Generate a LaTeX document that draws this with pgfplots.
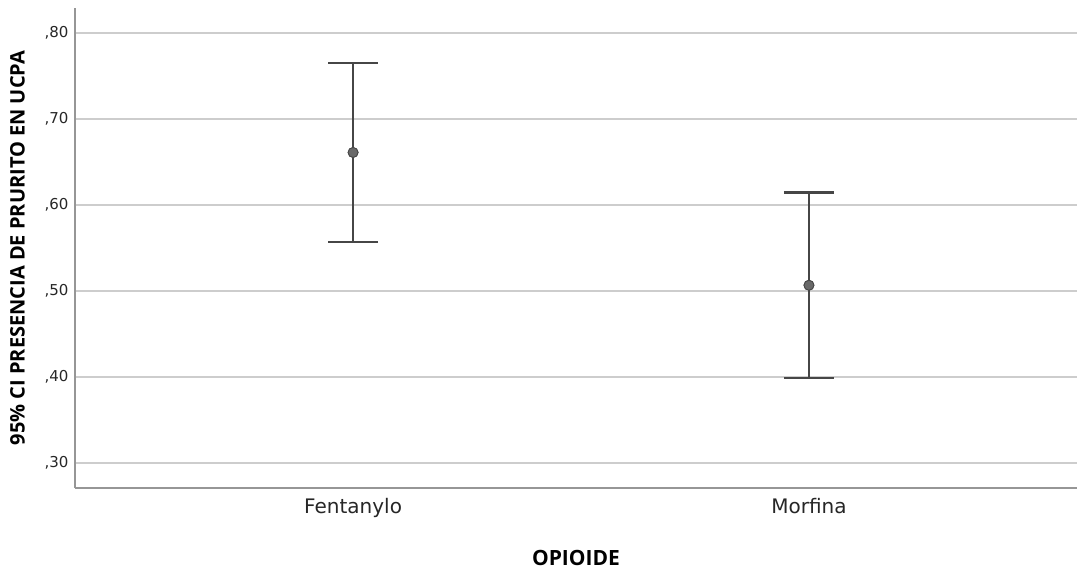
\documentclass[border=0pt]{standalone}
\usepackage{pgfplots}
\pgfplotsset{compat=1.18}
\usepackage{fontspec}
\setmainfont{DejaVu Sans}
\newfontfamily\labelfont{Open Sans}
\definecolor{gridc}{RGB}{205,205,205}
\definecolor{axisc}{RGB}{150,150,150}
\definecolor{barc}{RGB}{70,70,70}
\definecolor{markc}{RGB}{105,105,105}
\begin{document}
\begin{tikzpicture}
\begin{axis}[
  scale only axis,
  width=1002bp, height=480bp,
  xmin=-0.61, xmax=1.588,
  ymin=0.2711, ymax=0.8289,
  axis x line*=bottom, axis y line*=left,
  axis line style={axisc, line width=1.2bp},
  xtick={0,1}, xticklabels={Fentanylo,Morfina},
  ytick={0.3,0.4,0.5,0.6,0.7,0.8},
  yticklabels={{,30},{,40},{,50},{,60},{,70},{,80}},
  major tick length=0pt,
  ymajorgrids, grid style={gridc, line width=1.4bp},
  tick label style={black!85},
  yticklabel style={font=\fontsize{15bp}{17bp}\selectfont, xshift=-3bp},
  xticklabel style={font=\fontsize{20bp}{23bp}\selectfont, yshift=-7bp},
  xlabel={\labelfont\bfseries OPIOIDE},
  xlabel style={font=\fontsize{21bp}{24bp}\selectfont, yshift=-26bp},
  ylabel={\labelfont\bfseries 95\% CI PRESENCIA DE PRURITO EN UCPA},
  ylabel style={font=\fontsize{20bp}{23bp}\selectfont, yshift=13bp},
  clip=false,
]
\addplot[only marks, mark=*, mark size=5bp,
  mark options={fill=markc, draw=barc, line width=0.8bp},
  error bars/.cd, y dir=both, y explicit,
  error bar style={barc, line width=2.4bp},
  error mark options={barc, line width=2.6bp, mark size=25bp, rotate=90}]
  coordinates {
  (0,0.661) +- (0,0.104)
  (1,0.5067) +- (0,0.1077)
  };
\addplot[only marks, mark=*, mark size=5bp,
  mark options={fill=markc, draw=barc, line width=0.8bp}]
  coordinates {(0,0.661) (1,0.5067)};
\end{axis}
\pgfresetboundingbox
\path (current axis.south west) ++(-75bp,-81bp) rectangle ([yshift=8bp]current axis.north east);
\end{tikzpicture}
\end{document}
